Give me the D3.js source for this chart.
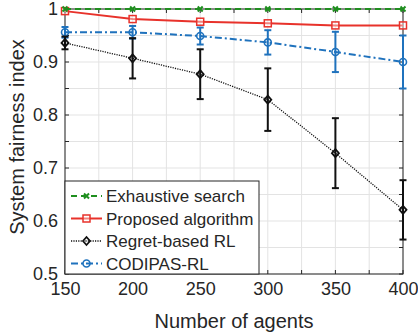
<!DOCTYPE html>
<html>
<head>
<meta charset="utf-8">
<script src="https://cdn.jsdelivr.net/npm/d3@7"></script>
<style>
body { margin: 0; background: #fff; }
text { font-family: "Liberation Sans", Arial, sans-serif; fill: #262626; }
</style>
</head>
<body>
<svg class="chart" width="418" height="335"></svg>
<script>
"use strict";
// data
var agents = [150, 200, 250, 300, 350, 400];
var exhaustive = [1, 1, 1, 1, 1, 1];
var proposed = [0.996, 0.981, 0.976, 0.973, 0.969, 0.969];
var regret = [0.936, 0.907, 0.877, 0.829, 0.728, 0.621];
var regretErr = [0.012, 0.038, 0.047, 0.059, 0.066, 0.056];
var codipas = [0.956, 0.956, 0.949, 0.937, 0.919, 0.900];
var codipasErr = [0.010, 0.012, 0.016, 0.023, 0.038, 0.050];
var xTicks = [150, 200, 250, 300, 350, 400];
var yTicks = [0.5, 0.6, 0.7, 0.8, 0.9, 1];

var pLeft = 65, pRight = 403, pTop = 9, pBottom = 274;
var svg = d3.select(".chart");

var x = d3.scaleLinear().domain([150, 400]).range([pLeft, pRight]);
var y = d3.scaleLinear().domain([0.5, 1]).range([pBottom, pTop]);

// grid, minor every 25 / 0.05
var gx = d3.range(150, 401, 25);
var gy = d3.range(0, 11).map(function(i) { return 0.5 + i * 0.05; });
svg.append("g").selectAll("line").data(gx).enter().append("line")
	.attr("x1", function(d) { return x(d); }).attr("x2", function(d) { return x(d); })
	.attr("y1", pTop).attr("y2", pBottom)
	.attr("stroke", "#e3e3e3").attr("stroke-width", 1);
svg.append("g").selectAll("line").data(gy).enter().append("line")
	.attr("y1", function(d) { return y(d); }).attr("y2", function(d) { return y(d); })
	.attr("x1", pLeft).attr("x2", pRight)
	.attr("stroke", "#e3e3e3").attr("stroke-width", 1);

// axes
var xAxis = svg.append("g").attr("transform", "translate(0," + pBottom + ")")
	.call(d3.axisBottom(x).tickValues(xTicks).tickSize(0).tickPadding(8).tickFormat(d3.format("d")));
var yAxis = svg.append("g").attr("transform", "translate(" + pLeft + ",0)")
	.call(d3.axisLeft(y).tickValues(yTicks).tickSize(0).tickPadding(7).tickFormat(function(d) { return d == 1 ? "1" : d3.format(".1f")(d); }));
[xAxis, yAxis].forEach(function(a) {
	a.select(".domain").remove();
	a.selectAll("text").style("font-size", "18px").attr("fill", "#262626");
});

// minor ticks on all four sides
var tk = svg.append("g").attr("stroke", "#262626").attr("stroke-width", 1);
gx.forEach(function(d) {
	tk.append("line").attr("x1", x(d)).attr("x2", x(d)).attr("y1", pBottom).attr("y2", pBottom - 4);
	tk.append("line").attr("x1", x(d)).attr("x2", x(d)).attr("y1", pTop).attr("y2", pTop + 4);
});
gy.forEach(function(d) {
	tk.append("line").attr("y1", y(d)).attr("y2", y(d)).attr("x1", pLeft).attr("x2", pLeft + 4);
	tk.append("line").attr("y1", y(d)).attr("y2", y(d)).attr("x1", pRight).attr("x2", pRight - 4);
});
svg.append("rect").attr("x", pLeft).attr("y", pTop).attr("width", pRight - pLeft).attr("height", pBottom - pTop)
	.attr("fill", "none").attr("stroke", "#262626").attr("stroke-width", 1);

// axis titles
svg.append("text").attr("x", (pLeft + pRight) / 2).attr("y", 328)
	.attr("text-anchor", "middle").style("font-size", "20px").text("Number of agents");
svg.append("text").attr("transform", "translate(24,137) rotate(-90)")
	.attr("text-anchor", "middle").style("font-size", "20px").text("System fairness index");

var series = [
	{name: "Exhaustive search", vals: exhaustive, err: null, color: "#1f8f1f", dash: "6,4", width: 2, marker: "x"},
	{name: "Proposed algorithm", vals: proposed, err: null, color: "#e8322b", dash: null, width: 2, marker: "square"},
	{name: "Regret-based RL", vals: regret, err: regretErr, color: "#111111", dash: "1.2,1.2", width: 1.3, marker: "diamond"},
	{name: "CODIPAS-RL", vals: codipas, err: codipasErr, color: "#1f72bd", dash: "7,3,2,3", width: 2, marker: "circle"}
];

function drawMarker(g, type, cx, cy, color) {
	if (type == "x") {
		g.append("path").attr("d", "M" + (cx - 2.5) + "," + (cy - 2.5) + "L" + (cx + 2.5) + "," + (cy + 2.5) + "M" + (cx - 2.5) + "," + (cy + 2.5) + "L" + (cx + 2.5) + "," + (cy - 2.5))
			.attr("stroke", color).attr("stroke-width", 2).attr("fill", "none");
	} else if (type == "square") {
		g.append("rect").attr("x", cx - 3.5).attr("y", cy - 3.5).attr("width", 7).attr("height", 7)
			.attr("fill", "#fff").attr("fill-opacity", 0.4).attr("stroke", color).attr("stroke-width", 1.5);
	} else if (type == "diamond") {
		g.append("path").attr("d", "M" + cx + "," + (cy - 4) + "L" + (cx + 3.5) + "," + cy + "L" + cx + "," + (cy + 4) + "L" + (cx - 3.5) + "," + cy + "Z")
			.attr("fill", "none").attr("stroke", color).attr("stroke-width", 1.8);
	} else {
		g.append("circle").attr("cx", cx).attr("cy", cy).attr("r", 3.5)
			.attr("fill", "none").attr("stroke", color).attr("stroke-width", 1.6);
	}
}

var plot = svg.append("g");
var line = d3.line().x(function(d) { return x(d[0]); }).y(function(d) { return y(d[1]); });
// draw in reverse so exhaustive ends on top
series.slice().reverse().forEach(function(s) {
	var g = plot.append("g");
	if (s.err) {
		s.vals.forEach(function(v, i) {
			var cx = x(agents[i]);
			var y1 = y(v + s.err[i]), y2 = y(Math.max(v - s.err[i], 0.5));
			g.append("line").attr("x1", cx).attr("x2", cx).attr("y1", y1).attr("y2", y2)
				.attr("stroke", s.color).attr("stroke-width", 2);
			g.append("line").attr("x1", cx - 3.5).attr("x2", cx + 3.5).attr("y1", y1).attr("y2", y1)
				.attr("stroke", s.color).attr("stroke-width", 2);
			if (v - s.err[i] >= 0.5)
				g.append("line").attr("x1", cx - 3.5).attr("x2", cx + 3.5).attr("y1", y2).attr("y2", y2)
					.attr("stroke", s.color).attr("stroke-width", 2);
		});
	}
	g.append("path").datum(agents.map(function(a, i) { return [a, s.vals[i]]; }))
		.attr("d", line).attr("fill", "none").attr("stroke", s.color)
		.attr("stroke-width", s.width).attr("stroke-dasharray", s.dash);
	s.vals.forEach(function(v, i) { drawMarker(g, s.marker, x(agents[i]), y(v), s.color); });
});

// legend
var lg = svg.append("g");
var lgTop = 181;
lg.append("rect").attr("x", pLeft).attr("y", lgTop).attr("width", 259 - pLeft).attr("height", pBottom - lgTop)
	.attr("fill", "#fff").attr("stroke", "#262626").attr("stroke-width", 1);
series.forEach(function(s, i) {
	var ly = 196 + i * 22.5;
	lg.append("line").attr("x1", 71).attr("x2", 102).attr("y1", ly).attr("y2", ly)
		.attr("stroke", s.color).attr("stroke-width", s.width).attr("stroke-dasharray", s.dash);
	drawMarker(lg, s.marker, 86.5, ly, s.color);
	lg.append("text").attr("x", 106).attr("y", ly + 6).style("font-size", "17px").text(s.name);
});
</script>
</body>
</html>
